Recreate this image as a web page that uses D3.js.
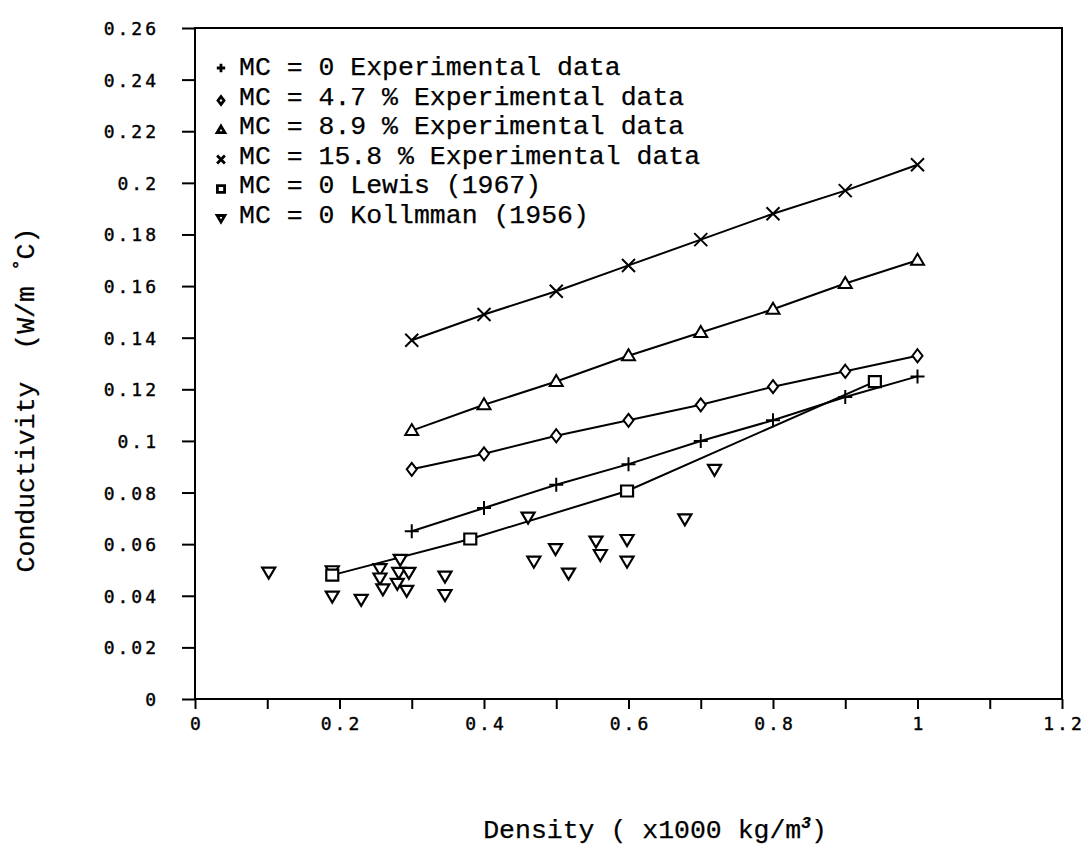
<!DOCTYPE html>
<html>
<head>
<meta charset="utf-8">
<script src="https://cdn.jsdelivr.net/npm/d3@7"></script>
<style>
  html, body { margin: 0; padding: 0; background: #fff; }
  svg { display: block; }
</style>
</head>
<body>
<svg id="chart" width="1084" height="846"></svg>
<script>
// ---------------- DATA ----------------
const densityExp = [0.3, 0.4, 0.5, 0.6, 0.7, 0.8, 0.9, 1.0];
const condMC0    = [0.065, 0.074, 0.083, 0.091, 0.100, 0.108, 0.117, 0.125];
const condMC47   = [0.089, 0.095, 0.102, 0.108, 0.114, 0.121, 0.127, 0.133];
const condMC89   = [0.104, 0.114, 0.123, 0.133, 0.142, 0.151, 0.161, 0.170];
const condMC158  = [0.139, 0.149, 0.158, 0.168, 0.178, 0.188, 0.197, 0.207];

const lewisDensity = [0.19, 0.381, 0.598, 0.941];
const lewisCond    = [0.048, 0.062, 0.0806, 0.123];

const kollDensity = [0.102, 0.19, 0.19, 0.23, 0.256, 0.256, 0.26, 0.284, 0.282, 0.28,
                     0.296, 0.293, 0.346, 0.346, 0.461, 0.469, 0.499, 0.517, 0.555,
                     0.561, 0.598, 0.598, 0.678, 0.719];
const kollCond    = [0.049, 0.0495, 0.0397, 0.0384, 0.0503, 0.0467, 0.0425, 0.0539, 0.0489, 0.0446,
                     0.0489, 0.0419, 0.0474, 0.0403, 0.0703, 0.0532, 0.0581, 0.0486, 0.061,
                     0.0558, 0.0616, 0.0532, 0.0696, 0.0888];

const xTickValues = [0, 0.1, 0.2, 0.3, 0.4, 0.5, 0.6, 0.7, 0.8, 0.9, 1.0, 1.1, 1.2];
const xTickLabels = ["0", "", "0.2", "", "0.4", "", "0.6", "", "0.8", "", "1", "", "1.2"];
const yTickValues = [0, 0.02, 0.04, 0.06, 0.08, 0.10, 0.12, 0.14, 0.16, 0.18, 0.20, 0.22, 0.24, 0.26];
const yTickLabels = ["0", "0.02", "0.04", "0.06", "0.08", "0.1", "0.12", "0.14", "0.16", "0.18", "0.2", "0.22", "0.24", "0.26"];

const legendLabels = [
  "MC = 0 Experimental data",
  "MC = 4.7 % Experimental data",
  "MC = 8.9 % Experimental data",
  "MC = 15.8 % Experimental data",
  "MC = 0 Lewis (1967)",
  "MC = 0 Kollmman (1956)"
];
const legendSymbols = ["plus", "diamond", "triUp", "cross", "square", "triDown"];

// ---------------- LAYOUT ----------------
const svg = d3.select("#chart");
const L = 195, R = 1062, T = 28, B = 699;
const x = d3.scaleLinear().domain([0, 1.2]).range([L, R]);
const y = d3.scaleLinear().domain([0, 0.26]).range([B, T]);

const tickFont = "'DejaVu Sans Mono', monospace";
const textFont = "'Liberation Mono', 'Courier New', monospace";

function symbolPath(type, k) {
  switch (type) {
    case "plus":   return `M${-7*k},0H${7*k}M0,${-7*k}V${7*k}`;
    case "cross":  return `M${-6.5*k},${-6.5*k}L${6.5*k},${6.5*k}M${-6.5*k},${6.5*k}L${6.5*k},${-6.5*k}`;
    case "diamond":return `M0,${-6.5*k}L${5*k},0L0,${6.5*k}L${-5*k},0Z`;
    case "triUp":  return `M0,${-6.5*k}L${6.5*k},${4.5*k}L${-6.5*k},${4.5*k}Z`;
    case "square": return `M${-6*k},${-5.5*k}H${6*k}V${5.5*k}H${-6*k}Z`;
    case "triDown":return `M${-6.5*k},${-5*k}H${6.5*k}L0,${6*k}Z`;
  }
}

// ---------------- AXES ----------------
const yAxis = d3.axisLeft(y).tickValues(yTickValues).tickSize(13).tickPadding(0)
  .tickFormat((d, i) => yTickLabels[i]);
const gy = svg.append("g").attr("transform", `translate(${L},0)`).call(yAxis);
gy.select(".domain").remove();
gy.selectAll(".tick line").attr("stroke", "#000").attr("stroke-width", 2);
gy.selectAll(".tick text")
  .attr("x", -36).attr("dy", "0.36em")
  .style("font-family", tickFont).style("font-size", "18px")
  .style("letter-spacing", "3px").attr("fill", "#000")
  .attr("stroke", "#000").attr("stroke-width", 0.4);

const xAxis = d3.axisBottom(x).tickValues(xTickValues).tickSize(10).tickPadding(0)
  .tickFormat((d, i) => xTickLabels[i]);
const gx = svg.append("g").attr("transform", `translate(0,${B})`).call(xAxis);
gx.select(".domain").remove();
gx.selectAll(".tick line").attr("stroke", "#000").attr("stroke-width", 2);
gx.selectAll(".tick text")
  .attr("y", 31).attr("dy", 0).attr("dx", "1.5px")
  .style("font-family", tickFont).style("font-size", "18px")
  .style("letter-spacing", "3px").attr("fill", "#000")
  .attr("stroke", "#000").attr("stroke-width", 0.4);

svg.append("rect").attr("x", L).attr("y", T).attr("width", R - L).attr("height", B - T)
  .attr("fill", "none").attr("stroke", "#000").attr("stroke-width", 2);

// ---------------- LINES ----------------
const line = d3.line().x(d => x(d[0])).y(d => y(d[1]));
const expSeries = [
  { sym: "plus",    vals: condMC0 },
  { sym: "diamond", vals: condMC47 },
  { sym: "triUp",   vals: condMC89 },
  { sym: "cross",   vals: condMC158 }
];
const lewisPts = lewisDensity.map((d, i) => [d, lewisCond[i]]);
const kollPts = kollDensity.map((d, i) => [d, kollCond[i]]);

expSeries.forEach(s => {
  svg.append("path").datum(densityExp.map((d, i) => [d, s.vals[i]]))
    .attr("d", line).attr("fill", "none").attr("stroke", "#000").attr("stroke-width", 2);
});
svg.append("path").datum(lewisPts).attr("d", line)
  .attr("fill", "none").attr("stroke", "#000").attr("stroke-width", 2);

// ---------------- MARKERS ----------------
function drawMarkers(pts, sym, k, sw) {
  const filled = !(sym === "plus" || sym === "cross");
  svg.append("g").selectAll("path").data(pts).join("path")
    .attr("transform", d => `translate(${x(d[0])},${y(d[1])})`)
    .attr("d", symbolPath(sym, k))
    .attr("fill", filled ? "#fff" : "none")
    .attr("stroke", "#000").attr("stroke-width", sw);
}
drawMarkers(kollPts, "triDown", 1, 2.2);
expSeries.forEach(s => drawMarkers(densityExp.map((d, i) => [d, s.vals[i]]), s.sym, 1, 2));
drawMarkers(lewisPts, "square", 1, 2.2);

// ---------------- LEGEND ----------------
const legY0 = 75, legDy = 29.5;
const leg = svg.append("g");
legendLabels.forEach((lab, i) => {
  const by = legY0 + i * legDy;
  const sy = legendSymbols[i] === "plus" ? by - 7 : by - 4;
  leg.append("path")
    .attr("transform", `translate(221,${sy})`)
    .attr("d", symbolPath(legendSymbols[i], 0.6))
    .attr("fill", legendSymbols[i] === "plus" || legendSymbols[i] === "cross" ? "none" : "#fff")
    .attr("stroke", "#000").attr("stroke-width", 2.8);
  leg.append("text").attr("x", 239).attr("y", by)
    .style("font-family", textFont).style("font-size", "26.5px")
    .attr("fill", "#000").attr("stroke", "#000").attr("stroke-width", 0.25)
    .text(lab);
});

// ---------------- AXIS TITLES ----------------
const xt = svg.append("text").attr("x", 655).attr("y", 838).attr("text-anchor", "middle")
  .style("font-family", textFont).style("font-size", "26.5px")
  .attr("fill", "#000").attr("stroke", "#000").attr("stroke-width", 0.25);
xt.append("tspan").text("Density ( x1000 kg/m");
xt.append("tspan").attr("dy", -10).style("font-size", "16px").style("font-weight", "bold")
  .style("font-style", "italic").text("3");
xt.append("tspan").attr("dy", 10).text(")");

const yt = svg.append("text").attr("transform", "translate(34,400) rotate(-90)")
  .attr("text-anchor", "middle")
  .style("font-family", textFont).style("font-size", "26.5px")
  .attr("fill", "#000").attr("stroke", "#000").attr("stroke-width", 0.25)
  .style("white-space", "pre");
yt.append("tspan").text("Conductivity  (W/m ");
yt.append("tspan").attr("dy", -9).style("font-size", "18px").style("font-weight", "bold").text("°");
yt.append("tspan").attr("dy", 9).text("C)");
</script>
</body>
</html>
